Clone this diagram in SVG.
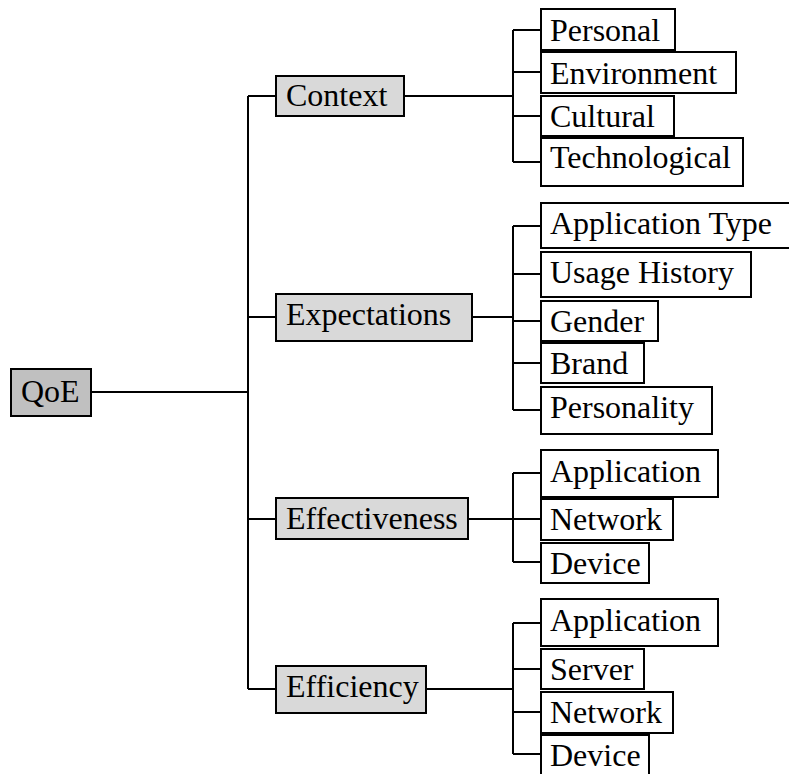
<svg xmlns="http://www.w3.org/2000/svg" width="789" height="774" viewBox="0 0 789 774">
<style>
rect{stroke:#000;stroke-width:2}
.root{fill:#c0c0c0}
.mid{fill:#d9d9d9}
.leaf{fill:#fff}
text{font-size:32px;fill:#000}
.c{fill:none;stroke:#000;stroke-width:2}
</style>
<rect width="789" height="774" fill="#fff" style="stroke:none"/>
<g id="connectors">
<path class="c" d="M91 392H248M248 96V689M248 96H276M248 317H276M248 519H276M248 689H276"/>
<path class="c" d="M404 96H513M513 30V162M513 30H541M513 72H541M513 116H541M513 162H541"/>
<path class="c" d="M472 317H513M513 226V410M513 226H541M513 274H541M513 321H541M513 363H541M513 410H541"/>
<path class="c" d="M468 519H513M513 473V562M513 473H541M513 519H541M513 562H541"/>
<path class="c" d="M426 689H513M513 623V754M513 623H541M513 669H541M513 712H541M513 754H541"/>
</g>
<g font-family="Liberation Serif, Times New Roman, serif">
<g id="qoe"><rect class="root" x="11" y="369" width="80" height="47"/><text x="21" y="402">QoE</text></g>
<g id="context"><rect class="mid" x="276" y="76" width="128" height="40"/><text x="286" y="106">Context</text></g>
<g id="expectations"><rect class="mid" x="276" y="294" width="196" height="47"/><text x="286" y="325">Expectations</text></g>
<g id="effectiveness"><rect class="mid" x="276" y="498" width="192" height="41"/><text x="286" y="529">Effectiveness</text></g>
<g id="efficiency"><rect class="mid" x="276" y="666" width="150" height="47"/><text x="286" y="697">Efficiency</text></g>
<g id="personal"><rect class="leaf" x="541" y="9" width="134" height="41"/><text x="550" y="41">Personal</text></g>
<g id="environment"><rect class="leaf" x="541" y="52" width="195" height="41"/><text x="550" y="84">Environment</text></g>
<g id="cultural"><rect class="leaf" x="541" y="96" width="133" height="40"/><text x="550" y="127">Cultural</text></g>
<g id="technological"><rect class="leaf" x="541" y="138" width="202" height="48"/><text x="550" y="168">Technological</text></g>
<g id="apptype"><rect class="leaf" x="541" y="203" width="250" height="45"/><text x="550" y="234">Application Type</text></g>
<g id="usage"><rect class="leaf" x="541" y="252" width="210" height="45"/><text x="550" y="283">Usage History</text></g>
<g id="gender"><rect class="leaf" x="541" y="301" width="117" height="40"/><text x="550" y="332">Gender</text></g>
<g id="brand"><rect class="leaf" x="541" y="343" width="103" height="40"/><text x="550" y="374">Brand</text></g>
<g id="personality"><rect class="leaf" x="541" y="387" width="171" height="47"/><text x="550" y="418">Personality</text></g>
<g id="eff-app"><rect class="leaf" x="541" y="450" width="177" height="47"/><text x="550" y="482">Application</text></g>
<g id="eff-net"><rect class="leaf" x="541" y="499" width="132" height="41"/><text x="550" y="530">Network</text></g>
<g id="eff-dev"><rect class="leaf" x="541" y="543" width="108" height="40"/><text x="550" y="574">Device</text></g>
<g id="ecy-app"><rect class="leaf" x="541" y="599" width="177" height="47"/><text x="550" y="631">Application</text></g>
<g id="ecy-srv"><rect class="leaf" x="541" y="649" width="103" height="40"/><text x="550" y="680">Server</text></g>
<g id="ecy-net"><rect class="leaf" x="541" y="692" width="132" height="41"/><text x="550" y="723">Network</text></g>
<g id="ecy-dev"><rect class="leaf" x="541" y="735" width="108" height="47"/><text x="550" y="766">Device</text></g>
</g>
</svg>
